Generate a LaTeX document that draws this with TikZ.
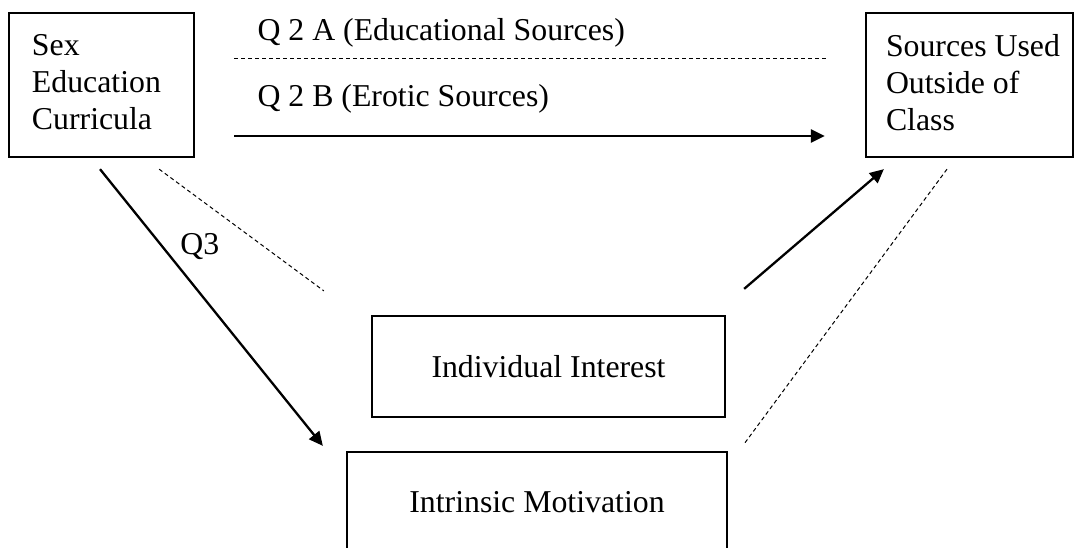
\documentclass[tikz,border=0pt]{standalone}
\usepackage{fontspec}
\setmainfont{Liberation Serif}
\usepackage{tikz}
\usetikzlibrary{arrows.meta,positioning,calc}
\tikzset{
  box-style/.style = {
    rectangle, draw, line width=1.15pt,
    font=\fontsize{15.9pt}{18.5pt}\selectfont,
    inner ysep=0pt
  },
  corner-style/.style = {
    box-style,
    align=flush left,
    minimum height=72pt,
    text depth=40pt,
    inner xsep=#1
  },
  mid-style/.style = {
    box-style,
    minimum height=50.5pt
  },
  label-style/.style = {
    anchor=base west, inner sep=0pt,
    font=\fontsize{15.9pt}{18.5pt}\selectfont
  },
  dash-style/.style = {
    -, line width=0.5pt, dash pattern=on 2pt off 1.5pt
  },
  every edge/.style = {draw, -{Triangle[length=7pt,width=6.5pt]}, line width=1.15pt}
}
\begin{document}
\begin{tikzpicture}[x=0.5pt,y=-0.5pt]
  \useasboundingbox (0,0) rectangle (1075,547);

  % the four boxes
  \node [corner-style=11.5pt, minimum width=92.5pt, text width=69.5pt] (curric)
        at (101.5,85) {Sex\\Education\\Curricula};
  \node [corner-style=10pt, minimum width=103.5pt, text width=83.5pt] (sources)
        at (969.5,85) {\mbox{Sources Used}\\Outside of\\Class};
  \node [mid-style, minimum width=176.5pt] (interest) at (548.5,366.5) {Individual Interest};
  \node [mid-style, minimum width=190pt] (motiv) at (537,502.5) {Intrinsic Motivation};

  % labels
  \node [label-style] (qa) at ($(curric.east)+(62,-45)$) {Q 2 A (Educational Sources)};
  \node [label-style] (qb) at ($(curric.east)+(62,21)$) {Q 2 B (Erotic Sources)};
  \node [label-style] (qc) at ($(curric.south)+(78.5,96)$) {Q3};

  % paths
  \path ($(curric.east)+(39,-27)$) edge[dash-style] ($(sources.west)+(-39,-27)$);
  \path ($(curric.east)+(39,51)$) edge ($(sources.west)+(-40,51)$);
  \path ($(curric.south)+(-1.5,11)$) edge ($(motiv.north west)+(-23,-5)$);
  \path ($(curric.south east)+(-36,11)$) edge[dash-style] ($(interest.north west)+(-47,-24)$);
  \path ($(interest.north east)+(18,-26)$) edge ($(sources.south west)+(19,11)$);
  \path ($(sources.south)+(-22.5,11)$) edge[dash-style] ($(motiv.north east)+(16,-7)$);
\end{tikzpicture}
\end{document}
